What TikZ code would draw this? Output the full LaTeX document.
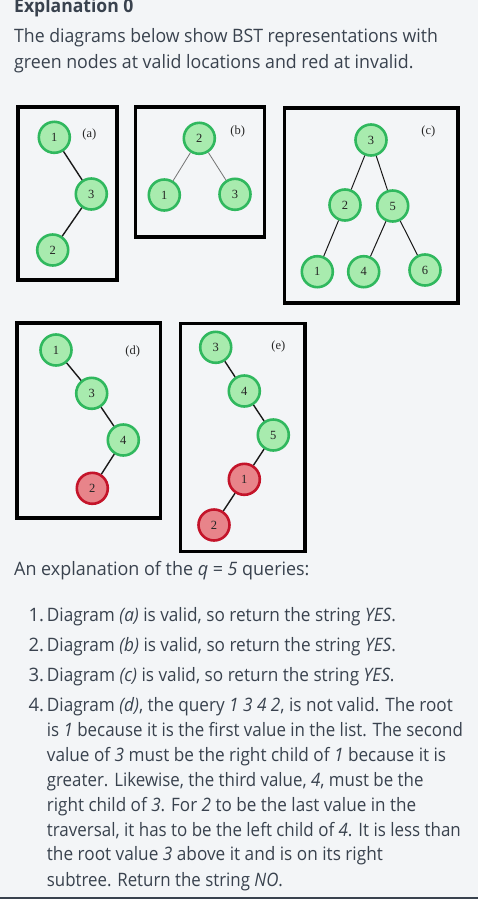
\documentclass[tikz,border=0pt]{standalone}
\usepackage{fontspec}
\setmainfont{Open Sans}
\newfontfamily\nodefont{Liberation Serif}
\definecolor{bgcol}{HTML}{F3F5F7}
\definecolor{txtcol}{HTML}{39424E}
\definecolor{gfill}{HTML}{A8EBAE}
\definecolor{gdraw}{HTML}{30B85E}
\definecolor{rfill}{HTML}{E8848A}
\definecolor{rdraw}{HTML}{C4142A}
\newsavebox\fitbox
\newcommand\fitto[2]{\sbox\fitbox{#2}\pgfmathsetmacro\fitr{#1/\the\wd\fitbox}\scalebox{\fitr}[1]{\usebox\fitbox}}
\tikzset{
  gnode/.style={circle, draw=gdraw, fill=gfill, line width=2.6pt, minimum size=31pt, inner sep=0pt, font=\nodefont\fontsize{12.5}{12.5}\selectfont, text=black!85},
  rnode/.style={gnode, draw=rdraw, fill=rfill},
  frame/.style={draw=black, line width=3.2pt},
  edge/.style={draw=black!90, line width=1.4pt},
  thinedge/.style={draw=black!55, line width=0.8pt},
  lbl/.style={font=\nodefont\fontsize{12.5}{12.5}\selectfont, text=black!85},
  txt/.style={anchor=base west, inner sep=0pt, text=txtcol, font=\fontsize{18.5}{20}\selectfont},
  head/.style={txt, font=\bfseries\fontsize{18.5}{20}\selectfont}
}
\begin{document}
\begin{tikzpicture}[x=1pt,y=-1pt]
\useasboundingbox (0,0) rectangle (478,899);
\fill[bgcol] (0,0) rectangle (478,899);
\begin{scope}
\clip (0,0) rectangle (478,899);
\node[head] (h) at (14,12.3) {\fitto{119.3}{Explanation 0}};
\end{scope}
\node[txt] (t1) at (14,42.3) {\fitto{423.7}{The diagrams below show BST representations with}};
\node[txt] (t2) at (14,68.3) {\fitto{399.3}{green nodes at valid locations and red at invalid.}};

% (a)
\draw[frame] (18,107) rectangle (117,280);
\node[gnode] (a1) at (54.3,137.3) {1};
\node[gnode] (a3) at (91.3,194) {3};
\node[gnode] (a2) at (52.7,250) {2};
\node[lbl] (la) at (89.3,134) {(a)};
\draw[edge] (a1) -- (a3);
\draw[edge] (a3) -- (a2);

% (b)
\draw[frame] (135.5,107) rectangle (264.5,237);
\node[gnode] (b2) at (199.3,138.3) {2};
\node[gnode] (b1) at (164.3,195) {1};
\node[gnode] (b3) at (235,194.3) {3};
\node[lbl] (lb) at (237.7,131) {(b)};
\draw[thinedge] (b2) -- (b1);
\draw[thinedge] (b2) -- (b3);

% (c)
\draw[frame] (284.5,108) rectangle (458,303);
\node[gnode] (c3) at (371,140) {3};
\node[gnode] (c2) at (345,205) {2};
\node[gnode] (c5) at (392.7,206) {5};
\node[gnode] (c1) at (317.3,271.7) {1};
\node[gnode] (c4) at (363.7,271.7) {4};
\node[gnode] (c6) at (425,270) {6};
\node[lbl] (lc) at (428.3,131.7) {(c)};
\draw[edge, line width=1pt] (c3) -- (c2);
\draw[edge, line width=1pt] (c3) -- (c5);
\draw[edge, line width=1pt] (c2) -- (c1);
\draw[edge, line width=1pt] (c5) -- (c4);
\draw[edge, line width=1pt] (c5) -- (c6);

% (d)
\draw[frame] (17,323) rectangle (160.5,518);
\node[gnode] (d1) at (56,350) {1};
\node[gnode] (d3) at (91.7,393.3) {3};
\node[gnode] (d4) at (123.3,440) {4};
\node[rnode] (d2) at (92.3,488.3) {2};
\node[lbl] (ld) at (132.7,351) {(d)};
\draw[edge] (d1) -- (d3);
\draw[edge] (d3) -- (d4);
\draw[edge] (d4) -- (d2);

% (e)
\draw[frame] (180.5,323.5) rectangle (305,551.5);
\node[gnode] (e3) at (215.7,347.3) {3};
\node[gnode] (e4) at (244.3,391) {4};
\node[gnode] (e5) at (273.3,435) {5};
\node[rnode] (e1) at (244.3,479.3) {1};
\node[rnode] (e2) at (214,525) {2};
\node[lbl] (le) at (278.3,346.7) {(e)};
\draw[edge] (e3) -- (e4);
\draw[edge] (e4) -- (e5);
\draw[edge] (e5) -- (e1);
\draw[edge] (e1) -- (e2);

% explanation text
\node[txt] (q) at (14,575) {\fitto{295.3}{An explanation of the \textit{q} = \textit{5} queries:}};
\node[txt] (n1) at (28.3,621.7) {1.};
\node[txt] (i1) at (46.7,621.7) {\fitto{349}{Diagram \textit{(a)} is valid, so return the string \textit{YES}.}};
\node[txt] (n2) at (28.3,651.7) {2.};
\node[txt] (i2) at (46.7,651.7) {\fitto{349}{Diagram \textit{(b)} is valid, so return the string \textit{YES}.}};
\node[txt] (n3) at (28.3,681.5) {3.};
\node[txt] (i3) at (46.7,681.5) {\fitto{347.6}{Diagram \textit{(c)} is valid, so return the string \textit{YES}.}};
\node[txt] (n4) at (28.3,711.7) {4.};
\node[txt] (i4a) at (46.7,711.7) {\fitto{406}{Diagram \textit{(d)}, the query \textit{1 3 4 2}, is not valid. The root}};
\node[txt] (i4b) at (46.7,736.7) {\fitto{416}{is \textit{1} because it is the first value in the list. The second}};
\node[txt] (i4c) at (46.7,761.7) {\fitto{399.3}{value of \textit{3} must be the right child of \textit{1} because it is}};
\node[txt] (i4d) at (46.7,786.7) {\fitto{376.6}{greater. Likewise, the third value, \textit{4}, must be the}};
\node[txt] (i4e) at (46.7,811.7) {\fitto{369.3}{right child of \textit{3}. For \textit{2} to be the last value in the}};
\node[txt] (i4f) at (46.7,836.7) {\fitto{414}{traversal, it has to be the left child of \textit{4}. It is less than}};
\node[txt] (i4g) at (46.7,860.7) {\fitto{336}{the root value \textit{3} above it and is on its right}};
\node[txt] (i4h) at (46.7,886) {\fitto{236}{subtree. Return the string \textit{NO}.}};

\draw[txtcol, line width=2pt] (0,898) -- (478,898);
\end{tikzpicture}
\end{document}
